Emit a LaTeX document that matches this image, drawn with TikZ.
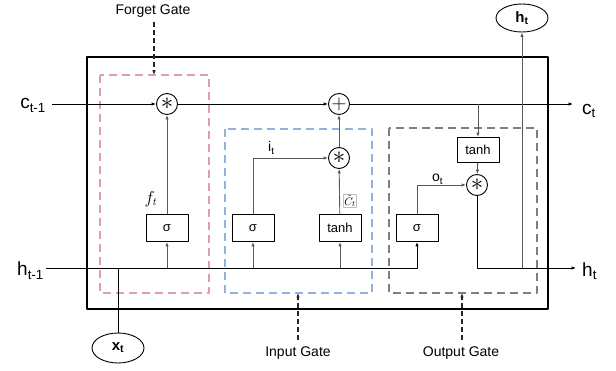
\documentclass[tikz,border=0pt]{standalone}
\usepackage{fontspec}
\setmainfont{Liberation Sans}
\usepackage{tikz}
\usetikzlibrary{arrows.meta,shapes.geometric}
\definecolor{forgetpink}{HTML}{DE9FAA}
\definecolor{inputblue}{HTML}{92B3E2}
\definecolor{outputgray}{HTML}{7F7F7F}
\definecolor{navy}{HTML}{1E2637}
\newcommand\fsz[1]{\fontsize{#1}{#1}\selectfont}
\tikzset{
  every picture/.style={
    line join=round,
    >={Latex[length=4.5pt,width=3.5pt]},   % small filled tips
  },
  wire/.style={black!65,line width=0.9pt},
  op/.style={circle,draw,line width=0.9pt,minimum size=21pt,inner sep=0pt},
  fn/.style={draw,line width=0.9pt,minimum width=42pt,minimum height=27pt,inner sep=0pt,font=\fsz{13}},
  gate/.style={line width=2pt,dash pattern=on 8pt off 5pt},
  pointer/.style={->,navy,line width=1.8pt,dash pattern=on 5pt off 3pt},
  io/.style={ellipse,draw,line width=0.9pt,minimum width=52pt,minimum height=28pt,inner sep=0pt,font=\bfseries\fsz{15}},
}

\begin{document}
\begin{tikzpicture}[x=1pt,y=-1pt]
\useasboundingbox (0,0) rectangle (616,371);
% cell and gate frames
\draw[line width=1.3pt](87,57) rectangle (548,309);
\draw[gate,forgetpink](100,75) rectangle (209,293);
\draw[gate,inputblue](225,129) rectangle (372,293);
\draw[gate,outputgray](389,128) rectangle (537,293);
% operators
\node[op] (fmul) at (167,104) {\fsz{25}$\ast$};
\node[op] (plus) at (339,104) {\fsz{20}$+$};
\node[op] (imul) at (339,158) {\fsz{25}$\ast$};
\node[op] (omul) at (477,185) {\fsz{25}$\ast$};
\node[fn] (fsig) at (167,228) {σ};
\node[fn] (isig) at (253,228) {σ};
\node[fn] (itanh) at (340,228) {tanh};
\node[fn] (osig) at (417,228) {σ};
\node[fn,minimum height=25pt] (otanh) at (478,150) {tanh};
\node[io] (ht) at (522,18) {h\textsubscript{t}};
\node[io,minimum height=30pt] (xt) at (118,348) {x\textsubscript{t}};
% cell state
\coordinate (cin) at (52,104);
\coordinate (cout) at (573,104);
\coordinate (csplit) at (478,104);
\node[anchor=base east,inner sep=0pt,font=\fsz{19}] (cprev) at (46,109) {c\textsubscript{t-1}};
\node[anchor=base west,inner sep=0pt,font=\fsz{19}] (cnext) at (582,115) {c\textsubscript{t}};
\draw[->,line width=0.9pt](cin)--(fmul);
\draw[->,line width=0.9pt](fmul)--(plus);
\draw[->,line width=0.9pt](plus)--(cout);
\draw[->,wire](csplit)--(otanh);
\draw[->,wire](otanh)--(omul);
% hidden state
\coordinate (hin) at (46,268);
\coordinate (hout) at (576,268);
\coordinate (hsplit) at (522,268);
\node[anchor=base east,inner sep=0pt,font=\fsz{19}] (hprev) at (44,276) {h\textsubscript{t-1}};
\node[anchor=base west,inner sep=0pt,font=\fsz{19}] (hnext) at (582,277) {h\textsubscript{t}};
\draw[->,line width=0.9pt](hin)-|(osig);
\draw[->,wire](fsig|-hin)--(fsig);
\draw[->,wire](isig|-hin)--(isig);
\draw[->,wire](itanh|-hin)--(itanh);
\draw[line width=0.9pt](xt)--(xt|-hin);
\draw[->,line width=0.9pt](omul.south)|-(hout);
\draw[->,wire](hsplit)--(ht);
% gate signals
\draw[->,wire](fsig)--(fmul);
\draw[->,wire](isig.north)|-(imul);
\draw[->,wire](itanh)--(imul);
\draw[->,wire](imul)--(plus);
\draw[->,wire](osig.north)|-(omul);
\node[font=\fsz{16}] (flab) at (151,199) {$f_t$};
\node[anchor=base west,inner sep=0pt,font=\fsz{14}] (ilab) at (268,152) {i\textsubscript{t}};
\node[anchor=base west,inner sep=0pt,font=\fsz{14}] (olab) at (432,182) {o\textsubscript{t}};
\node[draw=black!25,line width=0.4pt,inner sep=0.8pt,font=\fsz{11}] (clab) at (350,201) {$\tilde{C}_t$};
% gate names
\node[anchor=base,inner sep=0pt,font=\fsz{14}] (fgate) at (153,15) {Forget Gate};
\node[anchor=base,inner sep=0pt,font=\fsz{14}] (igate) at (298,357) {Input Gate};
\node[anchor=base,inner sep=0pt,font=\fsz{14}] (ogate) at (461,357) {Output Gate};
\coordinate (ftop) at (154,75);
\coordinate (ibot) at (298,293);
\coordinate (obot) at (462,293);
\draw[pointer](154,22)--(ftop);
\draw[pointer](298,340)--(ibot);
\draw[pointer](462,340)--(obot);
\end{tikzpicture}
\end{document}
